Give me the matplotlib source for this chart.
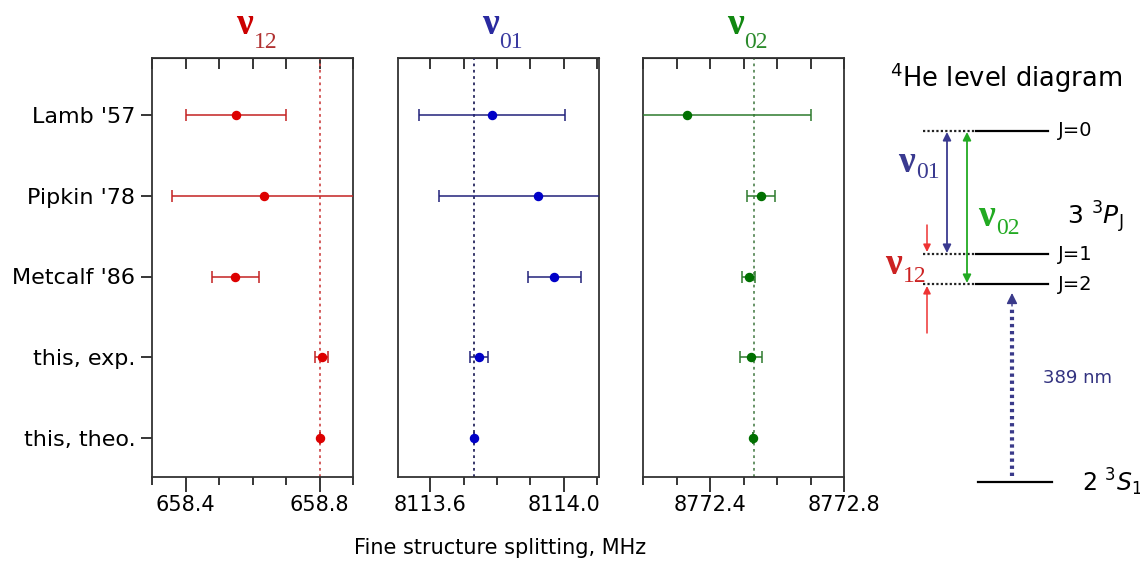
import numpy as np
import matplotlib
matplotlib.use("Agg")
import matplotlib.pyplot as plt
from matplotlib.ticker import MultipleLocator, FormatStrFormatter

plt.rcParams['font.family'] = ['DejaVu Sans']
plt.rcParams['mathtext.fontset'] = 'dejavusans'

# { -- data
labels   = ["Lamb '57", "Pipkin '78", "Metcalf '86", "this, exp.", "this, theo."]
nu12     = [658.550, 658.633, 658.549, 658.806, 658.800]
nu12_err = [0.150, 0.272, 0.069, 0.018, 0.0]
nu01     = [8113.785, 8113.924, 8113.972, 8113.745, 8113.730]
nu01_err = [0.220, 0.297, 0.080, 0.027, 0.0]
nu02     = [8772.331, 8772.553, 8772.515, 8772.523, 8772.529]
nu02_err = [0.370, 0.042, 0.018, 0.033, 0.0]
theory   = [658.80, 8113.73, 8772.53]
xlims    = [(658.3, 658.9), (8113.503, 8114.106), (8772.2, 8772.8)]
subs     = ['12', '01', '02']
# level diagram (schematic heights, pixel-like units)
level_names = ['J=0', 'J=1', 'J=2']
level_y     = [131, 254, 284]
ground_y    = 482
#  -- }

W, H = 1140, 577
fig = plt.figure(figsize=(W / 100, H / 100), dpi=100)

line_cols   = ['#c42222', '#22227a', '#2e7a2e']
marker_cols = ['#dd0000', '#0000c8', '#007000']
ref_cols    = ['#d05050', '#26265e', '#5a8a5a']
title_cols  = ['#cc0000', '#2a2aa0', '#118811']
sub_cols    = ['#b03030', '#3a3aa0', '#2a8a2a']

values = [nu12, nu01, nu02]
errors = [nu12_err, nu01_err, nu02_err]
lefts  = [152, 398, 643]
width  = 201
top, bottom = 58, 477
ypos = np.arange(len(labels))

for k in range(3):
    ax = fig.add_axes([lefts[k] / W, 1 - bottom / H, width / W, (bottom - top) / H])
    ax.axvline(theory[k], color=ref_cols[k], ls=(0, (1.5, 2)), lw=1.3, zorder=1)
    ax.errorbar(values[k], ypos, xerr=errors[k], fmt='o', color=line_cols[k],
                mfc=marker_cols[k], mec=marker_cols[k], ms=5.8, elinewidth=1.1,
                capsize=4, capthick=1.1, zorder=3)
    ax.set_xlim(*xlims[k])
    ax.set_ylim(4 + (bottom - 438) / 80.75, -(115 - top) / 80.75)
    ax.xaxis.set_major_locator(MultipleLocator(0.4))
    ax.xaxis.set_minor_locator(MultipleLocator(0.1))
    ax.xaxis.set_major_formatter(FormatStrFormatter('%.1f'))
    ax.tick_params(axis='x', which='major', length=11, width=1.1, labelsize=15, pad=2)
    ax.tick_params(axis='x', which='minor', length=6, width=1.1)
    for sp in ax.spines.values():
        sp.set_color('#333333')
        sp.set_linewidth(1.3)
    sec = ax.secondary_xaxis('top')
    sec.xaxis.set_major_locator(MultipleLocator(0.1))
    sec.tick_params(direction='in', length=8, width=1.1, labeltop=False)
    if k == 0:
        ax.set_yticks(ypos)
        ax.set_yticklabels(labels, fontsize=16)
        ax.tick_params(axis='y', length=8, width=1.1, pad=4)
    else:
        ax.set_yticks([])
    # panel title: nu with subscript
    cx = (lefts[k] + width / 2) / W
    fig.text(cx, 1 - 24 / H, 'ν', family='Liberation Serif', weight='bold',
             fontsize=27, color=title_cols[k], ha='right', va='center')
    fig.text(cx + 1 / W, 1 - 43 / H, subs[k], family='Liberation Serif',
             fontsize=17, color=sub_cols[k], ha='left', va='center')

fig.text(500 / W, 1 - 548 / H, 'Fine structure splitting, MHz', fontsize=15,
         ha='center', va='center')

# level diagram
ad = fig.add_axes([860 / W, 0, 280 / W, 1])
ad.set_xlim(860, 1140)
ad.set_ylim(H, 0)
ad.axis('off')

ad.text(1006, 78, r'$\mathregular{^4}$He level diagram', fontsize=18.5,
        ha='center', va='center')
for name, y in zip(level_names, level_y):
    ad.plot([923, 976], [y, y], color='#222222', ls=(0, (1, 1)), lw=1.6)
    ad.plot([976, 1048], [y, y], color='black', lw=1.6)
    ad.text(1058, y, name, fontsize=14, ha='left', va='center')
ad.text(1067, 217, r'3 $^3P_\mathrm{J}$', fontsize=18, ha='left', va='center')
ad.plot([978, 1052], [ground_y, ground_y], color='black', lw=1.6)
ad.text(1082, ground_y, r'2 $^3S_1$', fontsize=17, ha='left', va='center')

arrow = dict(arrowstyle='<|-|>', lw=1.3, mutation_scale=12, shrinkA=0, shrinkB=0)
ad.annotate('', xy=(947, level_y[0] + 1), xytext=(947, level_y[1] - 1),
            arrowprops=dict(arrow, color='#3a3a90'))
ad.annotate('', xy=(967, level_y[0] + 1), xytext=(967, level_y[2] - 1),
            arrowprops=dict(arrow, color='#22aa22'))
red = dict(arrowstyle='-|>', lw=1.1, mutation_scale=11, shrinkA=0, shrinkB=0, color='#ee3333')
ad.annotate('', xy=(927, level_y[1] - 2), xytext=(927, 225), arrowprops=red)
ad.annotate('', xy=(927, level_y[2] + 2), xytext=(927, 333), arrowprops=red)
ad.plot([1012, 1012], [ground_y - 6, level_y[2] + 22], color='#3a3a8a', lw=3,
        ls=(0, (0.8, 0.9)))
ad.annotate('', xy=(1012, level_y[2] + 9), xytext=(1012, level_y[2] + 22),
            arrowprops=dict(arrowstyle='-|>', lw=1, mutation_scale=16,
                            shrinkA=0, shrinkB=0, color='#3a3a8a'))
ad.text(1043, 378, '389 nm', fontsize=13, color='#333380', ha='left', va='center')

# nu labels in the diagram
for (x, y, sub, c) in [(915, 162, '01', '#3a3a90'), (995, 217, '02', '#22aa22'),
                       (902, 265, '12', '#cc2222')]:
    ad.text(x, y, 'ν', family='Liberation Serif', weight='bold', fontsize=27,
            color=c, ha='right', va='center')
    ad.text(x + 1, y + 11, sub, family='Liberation Serif', fontsize=17,
            color=c, ha='left', va='center')

fig.savefig('out.png', dpi=100)
